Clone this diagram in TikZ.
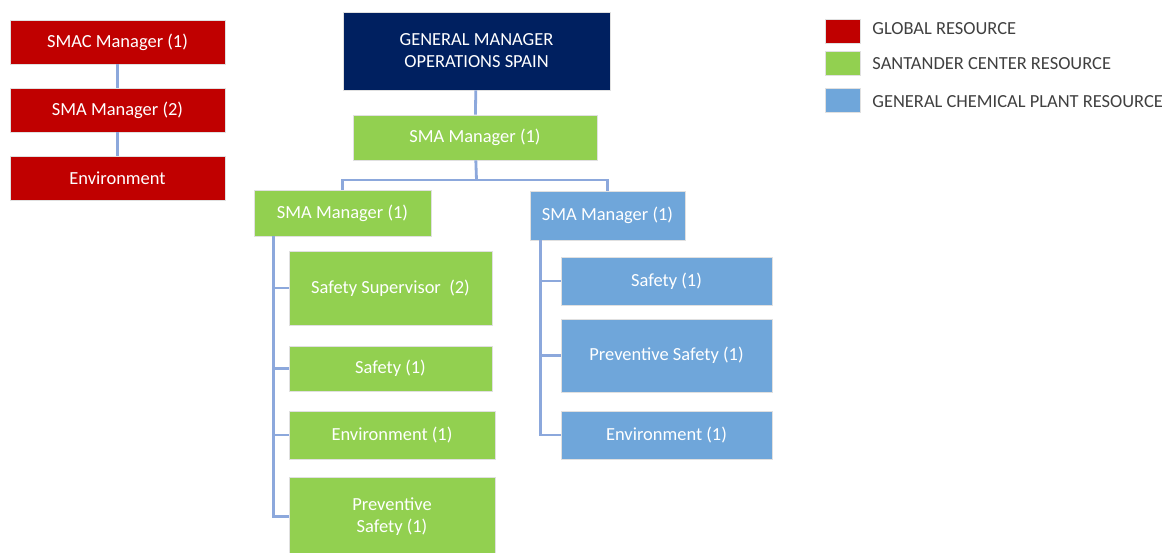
\documentclass[tikz,border=0pt]{standalone}
\usepackage{fontspec}
\setmainfont{Carlito}
\usepackage{tikz}
\usetikzlibrary{positioning}

\definecolor{globalred}{RGB}{192,0,0}
\definecolor{centergreen}{RGB}{146,208,80}
\definecolor{plantblue}{RGB}{111,166,218}
\definecolor{gmnavy}{RGB}{0,32,96}
\definecolor{linkblue}{RGB}{140,168,220}
\definecolor{legendtext}{RGB}{64,64,64}

\begin{document}
\begin{tikzpicture}[
            x = 0.02cm, y = -0.02cm, % one unit per pixel, y downwards
            line width = 1.6pt, % connector width
            font = \fontsize{10.5}{12.5}\selectfont
        ]

        \tikzstyle{box}=[
            rectangle,
            draw = black!12,
            line width = 0.4pt,
            text = white,
            align = center,
            inner sep = 2pt
        ]
        \tikzstyle{global}=[box, fill = globalred]
        \tikzstyle{center}=[box, fill = centergreen]
        \tikzstyle{plant}=[box, fill = plantblue]
        \tikzstyle{link}=[draw = linkblue]

        \useasboundingbox (0,0) rectangle (1165,553);

        % global chain
        \node[global, minimum width=4.3cm, minimum height=0.88cm] (smac) at (117.5,42)  {SMAC Manager (1)};
        \node[global, minimum width=4.3cm, minimum height=0.88cm] (sma2) at (117.5,110) {SMA Manager (2)};
        \node[global, minimum width=4.3cm, minimum height=0.88cm] (envg) at (117.5,178) {Environment};

        % top of the tree
        \node[box, fill=gmnavy, minimum width=5.34cm, minimum height=1.56cm] (gm) at (476.5,51) {GENERAL MANAGER\\OPERATIONS SPAIN};
        \node[center, minimum width=4.88cm, minimum height=0.9cm] (smatop) at (475,137.5) {SMA Manager (1)};

        \node[center, minimum width=3.54cm, minimum height=0.92cm] (smal) at (342.5,213)   {SMA Manager (1)};
        \node[plant, minimum width=3.1cm, minimum height=0.98cm]   (smar) at (607.5,215.5) {SMA Manager (1)};

        % santander branch
        \node[center, minimum width=4.06cm, minimum height=1.48cm] (supv)  at (390.5,288)   {Safety Supervisor\ \ (2)};
        \node[center, minimum width=4.06cm, minimum height=0.9cm]  (safl)  at (390.5,368.5) {Safety (1)};
        \node[center, minimum width=4.12cm, minimum height=0.96cm] (envl)  at (392,435)     {Environment (1)};
        \node[center, minimum width=4.12cm, minimum height=1.58cm] (prevl) at (392,516.5)   {Preventive\\Safety (1)};

        % chemical plant branch
        \node[plant, minimum width=4.22cm, minimum height=0.96cm] (safr)  at (666.5,281)   {Safety (1)};
        \node[plant, minimum width=4.22cm, minimum height=1.46cm] (prevr) at (666.5,355.5) {Preventive Safety (1)};
        \node[plant, minimum width=4.22cm, minimum height=0.96cm] (envr)  at (666.5,435)   {Environment (1)};

        \coordinate (split) at (476.5,180);

        \path[link] (smac) edge (sma2);
        \path[link] (sma2) edge (envg);
        \path[link] (gm) edge (smatop);
        \draw[link] (smatop) -- (split);
        \draw[link] (smal.north) |- (split) -| (smar.north);

        \foreach \n in {supv, safl, envl, prevl}
            \draw[link] ([xshift=0.4cm]smal.south west) |- (\n.west);
        \foreach \n in {safr, prevr, envr}
            \draw[link] ([xshift=0.22cm]smar.south west) |- (\n.west);

        % legend
        \node[box, fill=globalred,   minimum width=0.7cm, minimum height=0.48cm] (kglobal) at (842.5,31)  {};
        \node[box, fill=centergreen, minimum width=0.7cm, minimum height=0.48cm] (kcenter) at (842.5,63)  {};
        \node[box, fill=plantblue,   minimum width=0.7cm, minimum height=0.48cm] (kplant)  at (842.5,100) {};

        \node[anchor=west, text=legendtext, inner sep=0pt] (tglobal) at (871,29)  {GLOBAL RESOURCE};
        \node[anchor=west, text=legendtext, inner sep=0pt] (tcenter) at (871,64)  {SANTANDER CENTER RESOURCE};
        \node[anchor=west, text=legendtext, inner sep=0pt] (tplant)  at (871,102) {GENERAL CHEMICAL PLANT RESOURCE};
    \end{tikzpicture}
\end{document}
